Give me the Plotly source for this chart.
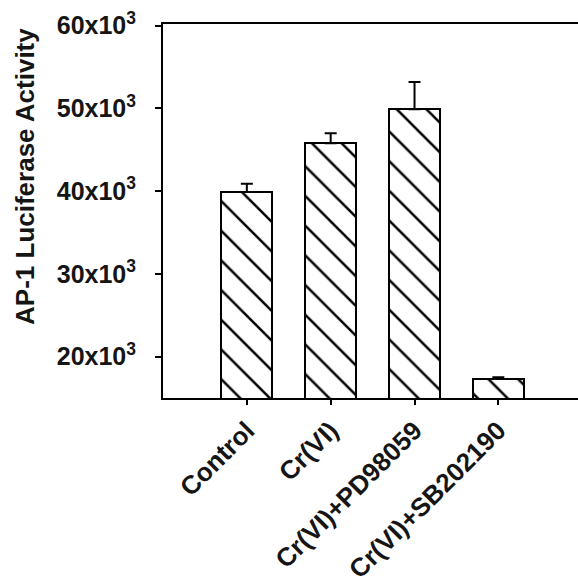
import plotly.graph_objects as go

categories = ["Control", "Cr(VI)", "Cr(VI)+PD98059", "Cr(VI)+SB202190"]
values = [39900, 45800, 49900, 17300]
errors = [1000, 1200, 3300, 200]
ytick_vals = [20000, 30000, 40000, 50000, 60000]
ytick_text = ["20x10<sup>3</sup>", "30x10<sup>3</sup>", "40x10<sup>3</sup>",
              "50x10<sup>3</sup>", "60x10<sup>3</sup>"]

FONT = "Liberation Sans, Arial, sans-serif"

fig = go.Figure()
fig.add_trace(go.Bar(
    x=list(range(len(categories))),
    y=values,
    width=0.61,
    marker=dict(
        color="white",
        line=dict(color="black", width=2),
        pattern=dict(shape="\\", fgcolor="#000000", fgopacity=1, bgcolor="white",
                     size=21, solidity=0.12),
    ),
    error_y=dict(type="data", symmetric=False, array=errors, arrayminus=[0] * len(errors),
                 color="black", thickness=2, width=6),
    showlegend=False,
))

fig.update_layout(
    width=578, height=584,
    margin=dict(l=163, r=0, t=24, b=186),
    plot_bgcolor="white", paper_bgcolor="white",
    font=dict(family=FONT, color="#151515", size=26),
    bargap=0,
)
fig.update_xaxes(
    range=[-1, 3.95],
    tickvals=list(range(len(categories))),
    ticktext=categories,
    tickangle=-45,
    ticks="outside", ticklen=5, tickwidth=2, tickcolor="black",
    showline=True, linecolor="black", linewidth=2, mirror=True,
    showgrid=False, zeroline=False, automargin=False,
    tickfont=dict(size=26, family=FONT, weight="bold"),
)
fig.update_yaxes(
    range=[15000, 60200],
    tickvals=ytick_vals, ticktext=ytick_text,
    ticks="outside", ticklen=6, tickwidth=2, tickcolor="black",
    ticklabelstandoff=14,
    showline=True, linecolor="black", linewidth=2,
    showgrid=False, zeroline=False, automargin=False,
    tickfont=dict(size=25, family=FONT, weight="bold"),
)
fig.add_annotation(
    text="AP-1 Luciferase Activity",
    xref="paper", yref="paper", x=0, y=0.591,
    xshift=-138, xanchor="center", yanchor="middle",
    textangle=-90, showarrow=False,
    font=dict(size=26, family=FONT, color="#151515", weight="bold"),
)

fig.write_html(
    "out.html",
    config={"displayModeBar": False},
    post_script="document.body.style.margin='0';document.body.style.overflow='hidden';",
)
